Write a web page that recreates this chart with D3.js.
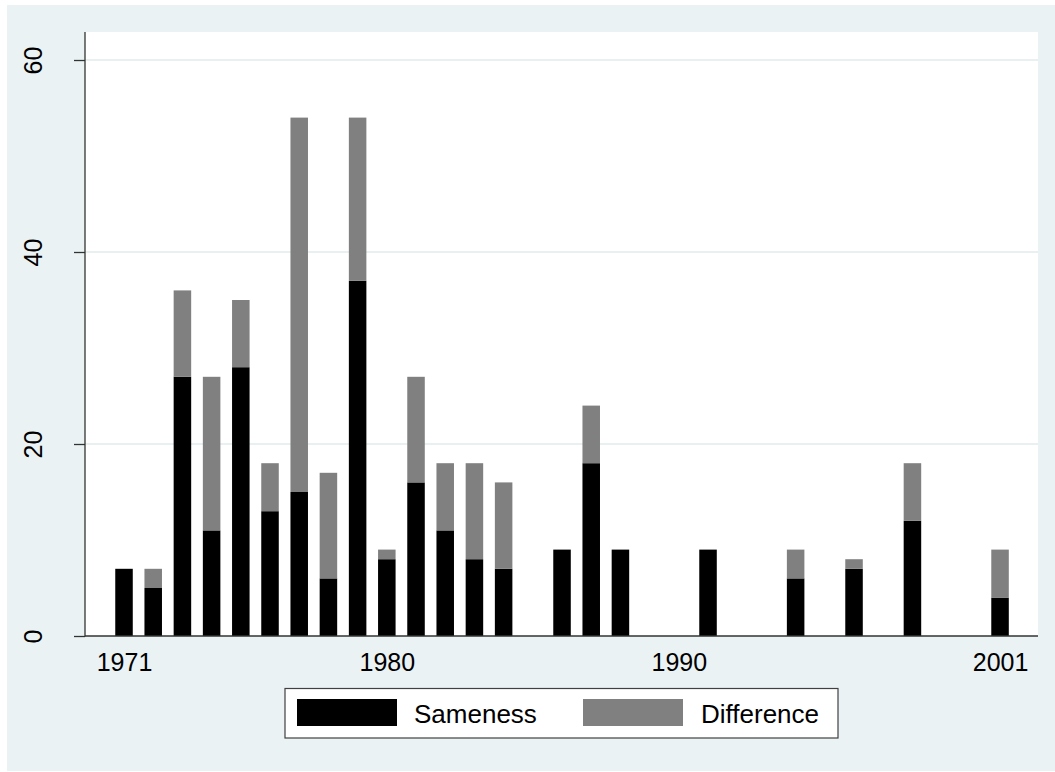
<!DOCTYPE html>
<html>
<head>
<meta charset="utf-8">
<script src="https://cdn.jsdelivr.net/npm/d3@7"></script>
<style>
  html, body { margin: 0; padding: 0; background: #ffffff; }
  svg { display: block; }
  text { font-family: "Liberation Sans", Arial, sans-serif; fill: #000; }
</style>
</head>
<body>
<svg id="chart" width="1055" height="772"></svg>
<script>
const years      = [1971,1972,1973,1974,1975,1976,1977,1978,1979,1980,1981,1982,1983,1984,1986,1987,1988,1991,1994,1996,1998,2001];
const sameness   = [7,5,27,11,28,13,15,6,37,8,16,11,8,7,9,18,9,9,6,7,12,4];
const difference = [0,2,9,16,7,5,39,11,17,1,11,7,10,9,0,6,0,0,3,1,6,5];
const xTicks = [1971, 1980, 1990, 2001];
const yTicks = [0, 20, 40, 60];
const seriesNames = ["Sameness", "Difference"];
const seriesColors = ["#000000", "#808080"];

const svg = d3.select("#chart");
const W = 1055, H = 772;
const plot = { left: 85, right: 1038, top: 32, bottom: 636 };

// outer background
svg.append("rect").attr("x", 7).attr("y", 5).attr("width", W - 7).attr("height", H - 6)
  .attr("fill", "#eaf2f3");
// plot region
svg.append("rect").attr("x", plot.left).attr("y", plot.top)
  .attr("width", plot.right - plot.left).attr("height", plot.bottom - plot.top)
  .attr("fill", "#ffffff");

const x = d3.scaleLinear().domain([1969.664, 2002.30]).range([plot.left, plot.right]);
const y = d3.scaleLinear().domain([0, 62.917]).range([plot.bottom, plot.top]);

// gridlines
svg.append("g").selectAll("line").data(yTicks.filter(d => d > 0)).join("line")
  .attr("x1", plot.left).attr("x2", plot.right)
  .attr("y1", d => y(d)).attr("y2", d => y(d))
  .attr("stroke", "#e8f0f2").attr("stroke-width", 1.8);

// stacked data
const rows = years.map((yr, i) => ({ year: yr, Sameness: sameness[i], Difference: difference[i] }));
const stack = d3.stack().keys(seriesNames)(rows);
const barW = x(1971.6) - x(1971);

svg.append("g").selectAll("g").data(stack).join("g")
  .attr("fill", (d, i) => seriesColors[i])
  .selectAll("rect").data(d => d.filter(p => p[1] > p[0])).join("rect")
  .attr("x", d => x(d.data.year) - barW / 2)
  .attr("width", barW)
  .attr("y", d => y(d[1]))
  .attr("height", d => y(d[0]) - y(d[1]));

// y axis
const yAxis = d3.axisLeft(y).tickValues(yTicks).tickSize(11).tickFormat(d3.format("d"));
const gy = svg.append("g").attr("transform", `translate(${plot.left},0)`).call(yAxis);
gy.select(".domain").remove();
gy.selectAll(".tick line").attr("stroke", "#333").attr("stroke-width", 1.3);
gy.selectAll(".tick text").remove();
gy.selectAll(".tick").append("text")
  .attr("transform", "translate(-43.5,0) rotate(-90)")
  .attr("text-anchor", "middle")
  .attr("dy", 0)
  .style("font-size", "25px")
  .style("font-family", "'Liberation Sans', Arial, sans-serif")
  .attr("fill", "#000")
  .text(d => d);
svg.append("line").attr("x1", plot.left).attr("x2", plot.left)
  .attr("y1", plot.top).attr("y2", plot.bottom + 0.5)
  .attr("stroke", "#333").attr("stroke-width", 1.3);

// x axis
const xAxis = d3.axisBottom(x).tickValues(xTicks).tickSize(0).tickFormat(d3.format("d"));
const gx = svg.append("g").attr("transform", `translate(0,${plot.bottom})`).call(xAxis);
gx.select(".domain").remove();
gx.selectAll(".tick text")
  .attr("y", 35).attr("dy", 0)
  .style("font-size", "25px")
  .style("font-family", "'Liberation Sans', Arial, sans-serif")
  .attr("fill", "#000");
svg.append("line").attr("x1", plot.left).attr("x2", plot.right)
  .attr("y1", plot.bottom).attr("y2", plot.bottom)
  .attr("stroke", "#333").attr("stroke-width", 1.3);

// legend
const lg = svg.append("g");
lg.append("rect").attr("x", 285).attr("y", 688.5).attr("width", 553).attr("height", 49.5)
  .attr("fill", "#ffffff").attr("stroke", "#404040").attr("stroke-width", 1.2);
const legendItems = [
  { name: seriesNames[0], color: seriesColors[0], sx: 297, tx: 414 },
  { name: seriesNames[1], color: seriesColors[1], sx: 583, tx: 701 }
];
legendItems.forEach(it => {
  lg.append("rect").attr("x", it.sx).attr("y", 699).attr("width", 100).attr("height", 27)
    .attr("fill", it.color);
  lg.append("text").attr("x", it.tx).attr("y", 723)
    .style("font-size", "26px").text(it.name);
});
</script>
</body>
</html>
